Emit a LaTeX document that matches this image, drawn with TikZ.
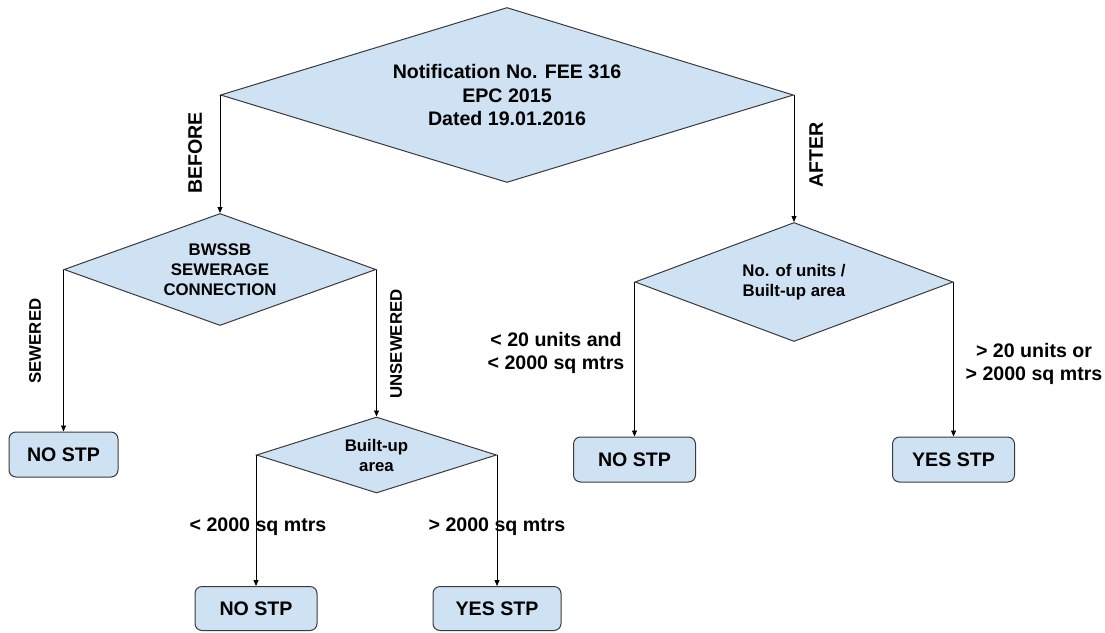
\documentclass[tikz,border=0pt]{standalone}
\usepackage{fontspec}
\setmainfont{Liberation Sans}
\usetikzlibrary{arrows.meta, shapes.geometric, positioning}
\definecolor{stpfill}{HTML}{CFE2F3}
\definecolor{stpline}{HTML}{3A3A3A}
\newcommand{\bigtxt}{\fontsize{19.6}{23.5}\selectfont\bfseries}
\newcommand{\smalltxt}{\fontsize{16.8}{20}\selectfont\bfseries}
\tikzset{
  decision/.style={diamond, draw=stpline, fill=stpfill, line width=1pt, inner sep=0pt, align=center},
  stpbox/.style={rectangle, rounded corners=7pt, draw=stpline, fill=stpfill, line width=1pt, font=\bigtxt},
  arr/.style={-{Triangle[length=6pt, width=5pt]}, line width=0.8pt},
  lbl/.style={font=\bigtxt, align=center, inner sep=0pt},
  sidelbl/.style={font=\smalltxt, rotate=90, inner sep=0pt}
}

\begin{document}
\begin{tikzpicture}[x=1pt, y=-1pt]
  \useasboundingbox (0,0) rectangle (1105,632);
  % decisions
  \node[decision, minimum width=573pt, minimum height=175pt, aspect=3.27, font=\bigtxt] (notif) at (507,95) {Notification No. FEE 316\\EPC 2015\\Dated 19.01.2016};
  \node[decision, minimum width=312pt, minimum height=112pt, aspect=2.79, font=\smalltxt, below=118pt of notif.west] (bwssb) {BWSSB\\SEWERAGE\\CONNECTION};
  \node[decision, minimum width=240pt, minimum height=76pt, aspect=3.16, font=\smalltxt, below=147pt of bwssb.east] (bua) {Built-up\\area};
  \node[decision, minimum width=318pt, minimum height=119pt, aspect=2.67, font=\smalltxt, below=127pt of notif.east] (units) {No. of units /\\Built-up area};
  % outcomes
  \node[stpbox, minimum width=109pt, minimum height=45pt, below=162pt of bwssb.west] (nostpa) {NO STP};
  \node[stpbox, minimum width=122pt, minimum height=44pt, below=131pt of bua.west] (nostpb) {NO STP};
  \node[stpbox, minimum width=128pt, minimum height=44pt, below=131pt of bua.east] (yesstpb) {YES STP};
  \node[stpbox, minimum width=122pt, minimum height=45pt, below=154.5pt of units.west] (nostpc) {NO STP};
  \node[stpbox, minimum width=122pt, minimum height=45pt, below=154.5pt of units.east] (yesstpc) {YES STP};
  % connectors
  \draw[arr] (notif.west) -- (bwssb.north);
  \draw[arr] (notif.east) -- (units.north);
  \draw[arr] (bwssb.west) -- (nostpa.north);
  \draw[arr] (bwssb.east) -- (bua.north);
  \draw[arr] (bua.west) -- (nostpb.north);
  \draw[arr] (bua.east) -- (yesstpb.north);
  \draw[arr] (units.west) -- (nostpc.north);
  \draw[arr] (units.east) -- (yesstpc.north);
  % labels
  \node[lbl, rotate=90] (before) at (195,153) {BEFORE};
  \node[lbl, rotate=90] (after) at (816,155) {AFTER};
  \node[sidelbl] (sewered) at (35,341) {SEWERED};
  \node[sidelbl] (unsewered) at (396,344) {UNSEWERED};
  \node[lbl] (lessa) at (258,527) {< 2000 sq mtrs};
  \node[lbl] (morea) at (497,527) {> 2000 sq mtrs};
  \node[lbl] (lessb) at (556,353) {< 20 units and\\< 2000 sq mtrs};
  \node[lbl] (moreb) at (1034,364) {> 20 units or\\> 2000 sq mtrs};
\end{tikzpicture}
\end{document}
